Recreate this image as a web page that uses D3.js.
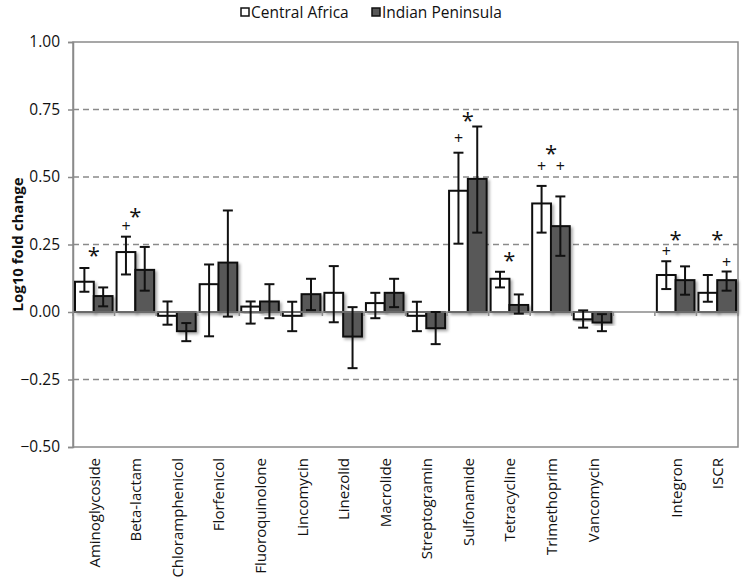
<!DOCTYPE html>
<html><head><meta charset="utf-8">
<script src="https://cdn.jsdelivr.net/npm/d3@7"></script>
<style>
html,body{margin:0;padding:0;background:#fff;}
svg{display:block;font-family:"Open Sans",sans-serif;}
</style></head>
<body><svg id="c" width="742" height="585"></svg>
<script>
// ---- data ----
const categories = ["Aminoglycoside","Beta-lactam","Chloramphenicol","Florfenicol","Fluoroquinolone","Lincomycin","Linezolid","Macrolide","Streptogramin","Sulfonamide","Tetracycline","Trimethoprim","Vancomycin","","Integron","ISCR"];
const seriesNames = ["Central Africa","Indian Peninsula"];
const centralAfrica    = [0.112,0.222,-0.014,0.103,0.020,-0.014,0.071,0.033,-0.014,0.449,0.123,0.402,-0.027,null,0.137,0.071];
const centralAfricaLo  = [0.075,0.139,-0.047,-0.090,-0.043,-0.071,-0.038,-0.023,-0.071,0.253,0.091,0.294,-0.058,null,0.085,0.038];
const centralAfricaHi  = [0.163,0.279,0.039,0.176,0.039,0.038,0.170,0.071,0.038,0.590,0.149,0.467,0.006,null,0.188,0.137];
const indianPeninsula  = [0.059,0.156,-0.071,0.183,0.039,0.066,-0.091,0.071,-0.060,0.493,0.026,0.318,-0.039,null,0.118,0.118];
const indianPeninsulaLo= [0.021,0.079,-0.108,-0.017,-0.023,0.007,-0.208,0.018,-0.119,0.294,-0.006,0.208,-0.071,null,0.064,0.079];
const indianPeninsulaHi= [0.091,0.241,-0.041,0.376,0.103,0.123,0.018,0.123,0.000,0.687,0.065,0.428,-0.008,null,0.169,0.150];
const yTicks = [-0.50,-0.25,0.00,0.25,0.50,0.75,1.00];
// significance marks: category, position (group / series), symbol, value
const marks = [
  ["Aminoglycoside","group","*",0.221],
  ["Beta-lactam","Central Africa","+",0.316],
  ["Beta-lactam","group","*",0.368],
  ["Sulfonamide","Central Africa","+",0.639],
  ["Sulfonamide","group","*",0.722],
  ["Tetracycline","group","*",0.205],
  ["Trimethoprim","group","*",0.599],
  ["Trimethoprim","Central Africa","+",0.538],
  ["Trimethoprim","Indian Peninsula","+",0.538],
  ["Integron","group","*",0.282],
  ["Integron","Central Africa","+",0.224],
  ["ISCR","group","*",0.282],
  ["ISCR","Indian Peninsula","+",0.182]
];

// ---- layout ----
const L=73, R=738, T=42, B=447;
const svg = d3.select("#c");
const defs = svg.append("defs");
const f = defs.append("filter").attr("id","sh").attr("x","-30%").attr("y","-30%").attr("width","160%").attr("height","160%");
f.append("feDropShadow").attr("dx",2).attr("dy",2).attr("stdDeviation",1.6).attr("flood-color","#000").attr("flood-opacity",0.35);

const y = d3.scaleLinear().domain([-0.5,1.0]).range([B,T]);
const x0 = d3.scaleBand().domain(categories.map((c,i)=>c||("gap"+i))).range([L,R]).padding(0);
const x1 = d3.scaleBand().domain(seriesNames).range([2, x0.bandwidth()-2]).padding(0);
const keyOf = i => categories[i]||("gap"+i);

// gridlines
svg.append("g").selectAll("line").data(yTicks.filter(t=>t!==0 && t!==1 && t!==-0.5)).join("line")
  .attr("x1",L).attr("x2",R).attr("y1",d=>y(d)).attr("y2",d=>y(d))
  .attr("stroke","#8a8a8a").attr("stroke-width",1.5).attr("stroke-dasharray","6,4");

// frame
svg.append("rect").attr("x",L).attr("y",T).attr("width",R-L).attr("height",B-T)
  .attr("fill","none").attr("stroke","#8a8a8a").attr("stroke-width",1.5);

// y axis
const yAxis = d3.axisLeft(y).tickValues(yTicks).tickFormat(d3.format(".2f")).tickSize(5).tickPadding(8);
const ga = svg.append("g").attr("transform",`translate(${L},0)`).call(yAxis);
ga.select(".domain").attr("stroke","#8a8a8a").attr("stroke-width",1.5);
ga.selectAll(".tick line").attr("stroke","#8a8a8a").attr("stroke-width",1.5);
ga.selectAll(".tick text").attr("font-family","Open Sans").attr("font-size",15.5).attr("fill","#111");

svg.append("text").attr("transform",`translate(19,${(T+B)/2}) rotate(-90)`)
  .attr("text-anchor","middle").attr("dominant-baseline","middle").attr("font-weight","bold").attr("font-size",15).attr("fill","#111")
  .text("Log10 fold change");

// bars
const rows = [];
categories.forEach((c,i)=>{
  if(!c) return;
  rows.push({c,i,s:seriesNames[0],v:centralAfrica[i],lo:centralAfricaLo[i],hi:centralAfricaHi[i],fill:"#ffffff"});
  rows.push({c,i,s:seriesNames[1],v:indianPeninsula[i],lo:indianPeninsulaLo[i],hi:indianPeninsulaHi[i],fill:"#585858"});
});
const gb = svg.append("g");
gb.selectAll("rect").data(rows).join("rect")
  .attr("x",d=>x0(keyOf(d.i))+x1(d.s)).attr("width",x1.bandwidth())
  .attr("y",d=>y(Math.max(0,d.v))).attr("height",d=>Math.abs(y(d.v)-y(0)))
  .attr("fill",d=>d.fill).attr("stroke","#111").attr("stroke-width",2).attr("filter","url(#sh)");

// zero line with ticks
svg.append("line").attr("x1",L).attr("x2",R).attr("y1",y(0)).attr("y2",y(0)).attr("stroke","#8a8a8a").attr("stroke-width",1.5);
svg.append("g").selectAll("line").data(d3.range(categories.length+1)).join("line")
  .attr("x1",d=>L+d*x0.bandwidth()).attr("x2",d=>L+d*x0.bandwidth())
  .attr("y1",y(0)).attr("y2",y(0)+4).attr("stroke","#8a8a8a").attr("stroke-width",1.5);

// error bars
const ge = svg.append("g").attr("stroke","#111").attr("stroke-width",2);
rows.forEach(d=>{
  const cx = x0(keyOf(d.i))+x1(d.s)+x1.bandwidth()/2;
  ge.append("line").attr("x1",cx).attr("x2",cx).attr("y1",y(d.hi)).attr("y2",y(d.lo));
  ge.append("line").attr("x1",cx-5).attr("x2",cx+5).attr("y1",y(d.hi)).attr("y2",y(d.hi));
  ge.append("line").attr("x1",cx-5).attr("x2",cx+5).attr("y1",y(d.lo)).attr("y2",y(d.lo));
});

// x labels
svg.append("g").selectAll("text").data(categories.map((c,i)=>({c,i})).filter(d=>d.c)).join("text")
  .attr("transform",d=>`translate(${x0(keyOf(d.i))+x0.bandwidth()/2+2},458) rotate(-90)`)
  .attr("text-anchor","end").attr("dominant-baseline","middle")
  .attr("font-size",15).attr("fill","#111").text(d=>d.c);

// significance marks
svg.append("g").selectAll("text").data(marks).join("text")
  .attr("x",d=>{const i=categories.indexOf(d[0]); return d[1]==="group"? x0(keyOf(i))+x0.bandwidth()/2 : x0(keyOf(i))+x1(d[1])+x1.bandwidth()/2;})
  .attr("y",d=>y(d[3]) + (d[2]==="*"? 11 : 5))
  .attr("text-anchor","middle").attr("fill","#111")
  .attr("font-size",d=>d[2]==="*"?22:16)
  .text(d=>d[2]);

// legend
const lg = svg.append("g");
[[seriesNames[0],"#ffffff",241],[seriesNames[1],"#585858",372]].forEach(([n,c,x])=>{
  lg.append("rect").attr("x",x).attr("y",8).attr("width",8).attr("height",8).attr("fill",c).attr("stroke","#111").attr("stroke-width",1.5);
  lg.append("text").attr("x",x+10).attr("y",18).attr("font-size",15.5).attr("fill","#111").text(n);
});
</script></body></html>
